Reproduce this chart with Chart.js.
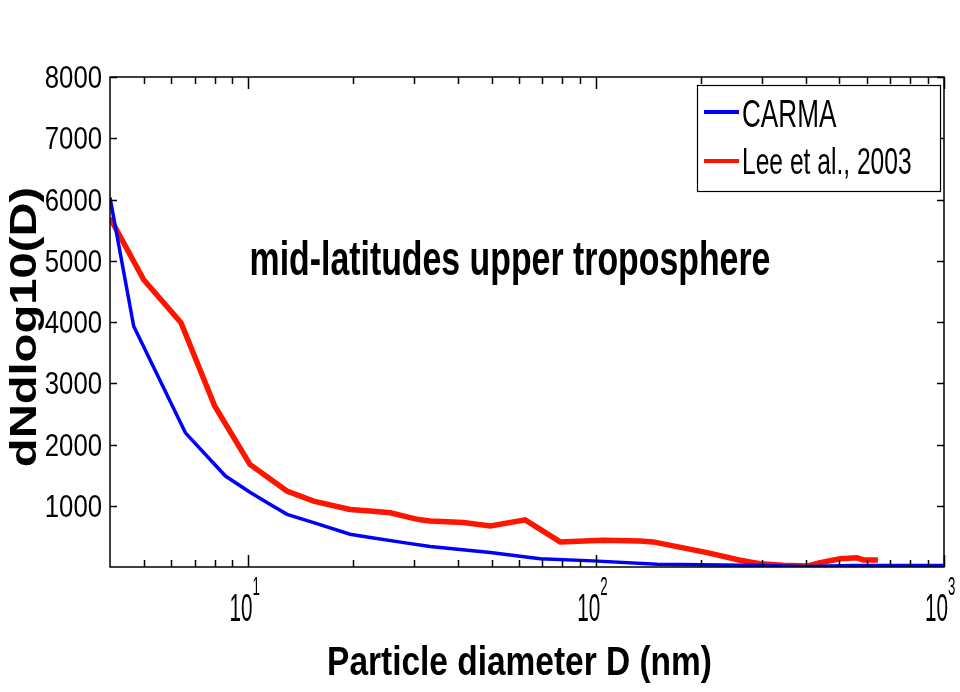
<!DOCTYPE html>
<html>
<head>
<meta charset="utf-8">
<script src="https://cdn.jsdelivr.net/npm/chart.js@4.4.1/dist/chart.umd.min.js"></script>
<style>
  html, body { margin: 0; padding: 0; background: #fff; }
  canvas { display: block; }
</style>
</head>
<body>
<canvas id="sizeDist" width="960" height="692"></canvas>
<script>
// CARMA model vs Lee et al. (2003) size distribution, mid-latitudes upper troposphere
const carmaD = [4, 4.68, 6.59, 8.59, 10.13, 11.56, 12.92, 15.4, 19.6, 22.4, 28.6, 33.3, 49.6, 69, 98, 149.6, 200, 300, 400, 550, 1000];
const carmaN = [6030, 3930, 2190, 1485, 1215, 1020, 860, 725, 535, 480, 390, 335, 235, 135, 100, 45, 35, 25, 8, 25, 25];

const leeD = [4, 5, 6.4, 8, 10.1, 12.9, 15.4, 19.6, 22.4, 25.6, 29.2, 31.2, 33.3, 41.5, 49.6, 62.5, 78.8, 104.7, 133.7, 145.8, 166.4, 208.4, 259.3, 295.9, 344.6, 403.7, 440.3, 502.6, 562.6, 585, 645.6];
const leeN = [5700, 4690, 3990, 2630, 1675, 1240, 1075, 940, 915, 885, 805, 770, 750, 725, 670, 770, 410, 435, 425, 410, 345, 235, 110, 55, 28, 15, 70, 135, 150, 115, 115];

const seriesNames = ["CARMA", "Lee et al., 2003"];
const yTickValues = [1000, 2000, 3000, 4000, 5000, 6000, 7000, 8000];
const xMajorTicks = [10, 100, 1000];
const xMajorExp = ["1", "2", "3"];
const xMinorTicks = [5, 6, 7, 8, 9, 20, 30, 40, 50, 60, 70, 80, 90, 200, 300, 400, 500, 600, 700, 800, 900];
const chartTitle = "mid-latitudes upper troposphere";
const xTitle = "Particle diameter D (nm)";
const yTitle = "dNdlog10(D)";

const BLUE = "rgb(0,0,255)";
const RED = "rgb(255,20,0)";
const FONT = '"Liberation Sans", Arial, Helvetica, sans-serif';

const toPoints = (xs, ys) => xs.map((x, i) => ({ x: x, y: ys[i] }));

// text squeezed horizontally like the original figure
function squeezedText(ctx, text, x, y, size, bold, sx, align) {
    ctx.save();
    ctx.translate(x, y);
    ctx.scale(sx, 1);
    ctx.font = (bold ? "bold " : "") + size + "px " + FONT;
    ctx.textAlign = align;
    ctx.textBaseline = "alphabetic";
    ctx.fillStyle = "#000";
    ctx.fillText(text, 0, 0);
    ctx.restore();
}

const matlabAxes = {
    id: "matlabAxes",
    afterDraw(chart) {
        const ctx = chart.ctx;
        const a = chart.chartArea;
        const xs = chart.scales.x, ys = chart.scales.y;

        // box + inward ticks
        ctx.save();
        ctx.strokeStyle = "#000";
        ctx.lineWidth = 1.5;
        ctx.strokeRect(a.left, a.top, a.right - a.left, a.bottom - a.top);
        ctx.beginPath();
        yTickValues.forEach(v => {
            const py = Math.round(ys.getPixelForValue(v)) + 0.5;
            ctx.moveTo(a.left, py); ctx.lineTo(a.left + 7, py);
            ctx.moveTo(a.right, py); ctx.lineTo(a.right - 7, py);
        });
        xMajorTicks.forEach(v => {
            const px = Math.round(xs.getPixelForValue(v)) + 0.5;
            ctx.moveTo(px, a.bottom); ctx.lineTo(px, a.bottom - 12);
            ctx.moveTo(px, a.top); ctx.lineTo(px, a.top + 12);
        });
        xMinorTicks.forEach(v => {
            const px = Math.round(xs.getPixelForValue(v)) + 0.5;
            ctx.moveTo(px, a.bottom); ctx.lineTo(px, a.bottom - 7);
            ctx.moveTo(px, a.top); ctx.lineTo(px, a.top + 7);
        });
        ctx.stroke();
        ctx.restore();

        // y tick labels
        yTickValues.forEach(v => {
            squeezedText(ctx, String(v), a.left - 8, ys.getPixelForValue(v) + 11, 31, false, 0.83, "right");
        });
        // x tick labels 10^n
        xMajorTicks.forEach((v, i) => {
            const px = xs.getPixelForValue(v);
            squeezedText(ctx, "10", px - 7.5, 621, 39, false, 0.53, "center");
            squeezedText(ctx, xMajorExp[i], px + 4, 595, 25, false, 0.53, "left");
        });

        // titles
        squeezedText(ctx, chartTitle, 510, 275, 48, true, 0.705, "center");
        squeezedText(ctx, xTitle, 519.5, 675, 40.5, true, 0.826, "center");
        ctx.save();
        ctx.translate(36, 327);
        ctx.rotate(-Math.PI / 2);
        ctx.scale(1.31, 1);
        ctx.font = "bold 36px " + FONT;
        ctx.textAlign = "center";
        ctx.textBaseline = "alphabetic";
        ctx.fillStyle = "#000";
        ctx.fillText(yTitle, 0, 0);
        ctx.restore();

        // legend box
        ctx.save();
        ctx.fillStyle = "#fff";
        ctx.fillRect(697, 85, 243, 106);
        ctx.strokeStyle = "#000";
        ctx.lineWidth = 1.2;
        ctx.strokeRect(697.5, 85.5, 243, 106);
        [[BLUE, 112], [RED, 161]].forEach(([c, y]) => {
            ctx.strokeStyle = c;
            ctx.lineWidth = 4;
            ctx.beginPath();
            ctx.moveTo(704, y); ctx.lineTo(739, y);
            ctx.stroke();
        });
        ctx.restore();
        squeezedText(ctx, seriesNames[0], 742, 127, 39, false, 0.67, "left");
        squeezedText(ctx, seriesNames[1], 742, 174, 37, false, 0.665, "left");
    }
};

new Chart(document.getElementById("sizeDist").getContext("2d"), {
    type: "line",
    data: {
        datasets: [
            { label: seriesNames[0], data: toPoints(carmaD, carmaN), borderColor: BLUE, borderWidth: 3.5, pointRadius: 0, tension: 0, fill: false },
            { label: seriesNames[1], data: toPoints(leeD, leeN), borderColor: RED, borderWidth: 5.5, pointRadius: 0, tension: 0, fill: false }
        ]
    },
    options: {
        responsive: false,
        animation: false,
        layout: { padding: { left: 110, right: 16, top: 77, bottom: 125 } },
        plugins: { legend: { display: false }, tooltip: { enabled: false } },
        scales: {
            x: { type: "logarithmic", min: 4, max: 1000, display: false },
            y: { type: "linear", min: 0, max: 8000, display: false }
        }
    },
    plugins: [matlabAxes]
});
</script>
</body>
</html>
